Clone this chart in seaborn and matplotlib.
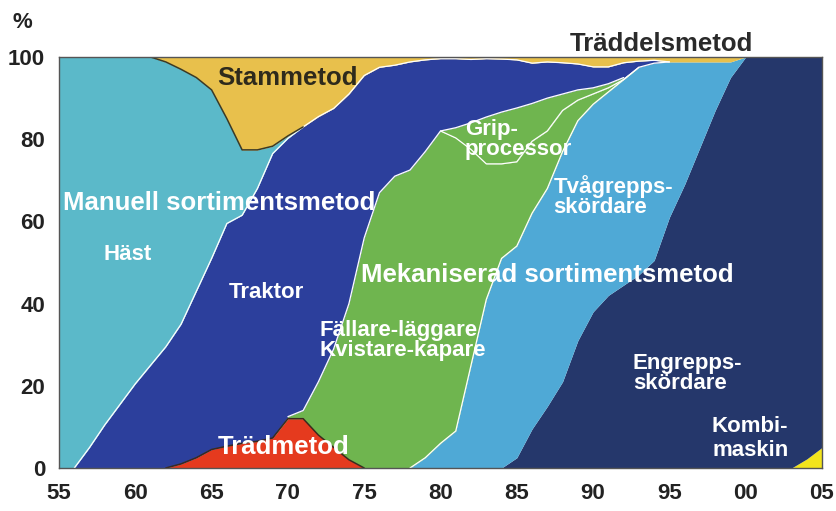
import numpy as np
import matplotlib
matplotlib.use('Agg')
import matplotlib.pyplot as plt
import seaborn as sns

# Andel (%) av avverkningen per drivningsmetod, 1955-2005
years = np.arange(1955, 2006)

kombi = [0] * 49 + [2.2, 5]
engrepps = [0] * 29 + [0, 2.5, 9.5, 15, 21, 31, 38, 42, 44.5, 47, 50.5, 61, 69, 78, 87, 95,
                       100, 100, 100, 100, 97.8, 95]
tvagrepps = [0] * 23 + [0, 2.5, 6, 9, 25, 41, 51, 51.5, 52.5, 53, 56, 53.5, 50.5, 49.5, 50,
                        50.5, 48, 37.8, 29.8, 20.8, 11.8, 3.8] + [0] * 6
tradmetod = [0] * 7 + [0, 1, 2.5, 4.5, 5.3, 6, 6.5, 7.3, 12, 12, 8, 5, 2, 0] + [0] * 30
fallare = [0] * 14 + [0, 0.5, 2, 13, 24, 38, 56, 67, 71, 72.5, 74.5, 76, 71.3, 52.5, 33, 23,
                      20.5, 17.5, 14, 10, 5, 2.5, 1, 0] + [0] * 13
grip = [0] * 25 + [0, 2.5, 6.5, 11.4, 12.6, 13.1, 9.2, 8, 4, 2.5, 1.5, 1, 0.5, 0] + [0] * 12
traktor = [0, 0, 5, 10.5, 15.5, 20.5, 25, 29.5, 34, 40.5, 46.5, 54.2, 55.5, 61.5, 69.2, 67.7,
           69, 64.5, 58.5, 51, 39.5, 30.5, 27, 26.3, 22.3, 17.6, 16.8, 15.4, 14.2, 12.9, 11.7,
           9.8, 8.8, 7.6, 6.3, 5.1, 4.1, 3.6, 1.5, 0.7] + [0] * 11
hast = [100, 100, 95, 89.5, 84.5, 79.5, 75, 69.3, 62, 52, 41, 25.5, 15.9, 9.4, 1.8, 0.6] + [0] * 35
stammetod = [0] * 7 + [1.2, 3, 5, 8, 15, 22.6, 22.6, 21.7, 19.2, 17, 14.5, 12.5, 9, 4.5, 2.5,
                       2, 1.2, 0.7] + [0] * 26
traddelsmetod = [0] * 25 + [0.4, 0.4, 0.6, 0.4, 0.5, 0.7, 1.5, 1.2, 1.4, 1.7, 2.4, 2.4, 1.4, 1,
                            0.8, 1.2, 1.2, 1.2, 1.2, 1.2] + [0] * 6

layers = [kombi, engrepps, tvagrepps, tradmetod, fallare, grip, traktor, hast,
          stammetod, traddelsmetod]
colors = ['#f2e41c', '#25376b', '#4fa9d6', '#e53a1e', '#6fb54f', '#6fb54f', '#2c3f9c',
          '#5bb9c9', '#e8c04c', '#e8c04c']

sns.set_theme(style='white')
plt.rcParams['font.family'] = ['Liberation Sans', 'DejaVu Sans']
plt.rcParams['font.weight'] = 'bold'

fig = plt.figure(figsize=(8.36, 5.11), dpi=100)
ax = fig.add_axes([59 / 836, 43 / 511, 763 / 836, 411 / 511])

ax.stackplot(years, layers, colors=colors, linewidth=0)

# gränslinjer mellan ytorna
cum = np.cumsum(np.array(layers, dtype=float), axis=0)


def edge(row, start, end, color, lw=1.0):
    y = np.where((years >= start) & (years <= end), cum[row], np.nan)
    ax.plot(years, y, color=color, lw=lw, solid_joinstyle='round')


edge(2, 1978, 1995, 'white', 0.9)      # tvågrepps / fällare
edge(4, 1980, 1993, 'white', 0.9)      # grip-processor
edge(5, 1970, 1992, 'white', 0.9)      # fällare / traktor
edge(6, 1956, 1995, 'white', 0.9)      # traktor / häst, stammetod
edge(7, 1961, 1971, '#3b3a26', 1.1)    # häst / stammetod
edge(3, 1962, 1975, '#3b2a1e', 1.1)    # trädmetod

ax.set_xlim(1955, 2005)
ax.set_ylim(0, 100)
ax.set_xticks(range(1955, 2006, 5))
ax.set_xticklabels(['55', '60', '65', '70', '75', '80', '85', '90', '95', '00', '05'])
ax.set_yticks([0, 20, 40, 60, 80, 100])
ax.tick_params(axis='both', direction='out', length=5, width=1, color='#555555',
               labelsize=16, labelcolor='#222222')
ax.tick_params(axis='x', pad=6)
ax.tick_params(axis='y', pad=5)
for s in ax.spines.values():
    s.set_color('#555555')
    s.set_linewidth(1)

ax.text(1952.6, 108.5, '%', fontsize=16, color='#222222', ha='center', va='center',
        clip_on=False)

big = dict(fontsize=18.5, fontweight='bold')
mid = dict(fontsize=16, fontweight='bold', color='white')
ax.text(1970, 95, 'Stammetod', color='#2e2a1c', ha='center', va='center', **big)
ax.text(1994.5, 103.2, 'Träddelsmetod', color='#2a2a2a', ha='center', va='center',
        clip_on=False, **big)
ax.text(1965.5, 64.5, 'Manuell sortimentsmetod', color='white', ha='center', va='center', **big)
ax.text(1987, 47, 'Mekaniserad sortimentsmetod', color='white', ha='center', va='center', **big)
ax.text(1969.7, 5, 'Trädmetod', color='white', ha='center', va='center', **big)
ax.text(1959.5, 52, 'Häst', ha='center', va='center', **mid)
ax.text(1968.6, 42.6, 'Traktor', ha='center', va='center', **mid)
ax.text(1972.1, 31, 'Fällare-läggare\nKvistare-kapare', ha='left', va='center',
        linespacing=0.95, **mid)
ax.text(1981.6, 80, 'Grip-\nprocessor', ha='left', va='center', linespacing=0.95, **mid)
ax.text(1987.4, 66, 'Tvågrepps-\nskördare', ha='left', va='center', linespacing=0.95, **mid)
ax.text(1992.6, 23, 'Engrepps-\nskördare', ha='left', va='center', linespacing=0.95, **mid)
ax.text(2002.8, 7.2, 'Kombi-\nmaskin', ha='right', va='center', multialignment='right',
        linespacing=1.15, **mid)

fig.savefig('out.png', dpi=100)
